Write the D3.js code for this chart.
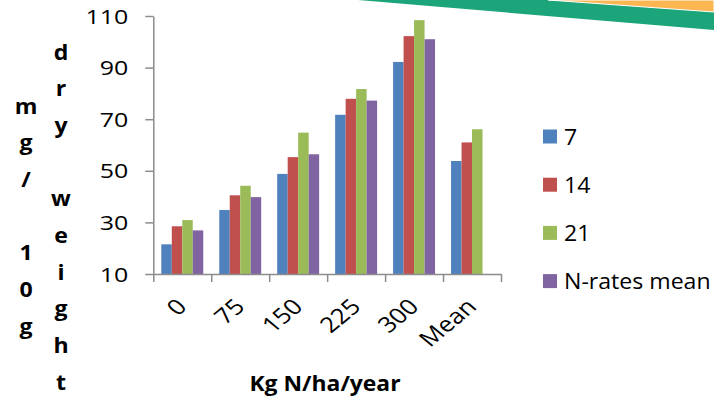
<!DOCTYPE html>
<html><head><meta charset="utf-8">
<script src="https://cdn.jsdelivr.net/npm/d3@7"></script>
<style>
body{margin:0;background:#fff}
svg{display:block}
text{font-family:"Open Sans",sans-serif;fill:#000}
</style>
</head><body>
<svg id="chart" width="714" height="400"></svg>
<script>
const categories = ["0","75","150","225","300","Mean"];
const seriesNames = ["7","14","21","N-rates mean"];
const values7 = [21.5, 34.8, 48.8, 71.7, 92.2, 53.8];
const values14 = [28.5, 40.5, 55.3, 77.9, 102.2, 61.0];
const values21 = [30.9, 44.2, 64.8, 81.7, 108.4, 66.1];
const valuesNMean = [26.9, 39.8, 56.4, 77.2, 101.0, null];
const yTicks = [10, 30, 50, 70, 90, 110];
const xTitle = "Kg N/ha/year";
const yTitleCol1 = "mg/ 10g";
const yTitleCol2 = "dry weight";
const colors = ["#4F81BD","#C0504D","#9BBB59","#8064A2"];

(function(){
const allSeries = [values7, values14, values21, valuesNMean];
const svg = d3.select("#chart");

// decorative top-right banner
svg.append("path").attr("d","M358,0 L714,0 L714,30 Z").attr("fill","#1CA57A");
svg.append("path").attr("d","M548,0 L714,0 L714,12 Z").attr("fill","#FBB651")
  .attr("stroke","#fff").attr("stroke-width",1);

const pL = 153.3, pR = 501, pT = 16, pB = 274;
const y = d3.scaleLinear().domain([10,110]).range([pB, pT]);
const x0 = d3.scaleBand().domain(categories).range([pL, pR]).paddingInner(0).paddingOuter(0);
const x1 = d3.scaleBand().domain(seriesNames).range([8, x0.bandwidth()-8]).paddingInner(0).paddingOuter(0);
const xEdge = d3.scaleLinear().domain([0, categories.length]).range([pL, pR]);

// bars
const rows = [];
categories.forEach((c,ci)=>{
  seriesNames.forEach((s,si)=>{
    const v = allSeries[si][ci];
    if (v !== null && v !== undefined) rows.push({c, s, si, v});
  });
});
svg.append("g").selectAll("rect").data(rows).join("rect")
  .attr("x", d => x0(d.c) + x1(d.s))
  .attr("width", x1.bandwidth())
  .attr("y", d => y(d.v))
  .attr("height", d => y(10) - y(d.v))
  .attr("fill", d => colors[d.si]);

// y axis
const yAxis = svg.append("g").attr("transform", `translate(${pL},0)`)
  .call(d3.axisLeft(y).tickValues(yTicks).tickSize(8).tickSizeOuter(0).tickFormat(d3.format("d")));
yAxis.select(".domain").attr("stroke","#8C8C8C").attr("stroke-width",1.5);
yAxis.selectAll(".tick line").attr("stroke","#8C8C8C").attr("stroke-width",1.5);
yAxis.selectAll(".tick text")
  .attr("x", 0).attr("dy","0.36em")
  .attr("transform", "translate(-25,0) scale(1.28,1)")
  .attr("text-anchor","end")
  .style("font-size","19.5px").style("font-family","'Open Sans',sans-serif").attr("fill","#000");

// x axis (ticks on category boundaries)
const xAxis = svg.append("g").attr("transform", `translate(0,${pB})`)
  .call(d3.axisBottom(xEdge).tickValues(d3.range(categories.length+1)).tickSize(8).tickSizeOuter(0).tickFormat(""));
xAxis.select(".domain").attr("stroke","#8C8C8C").attr("stroke-width",1.5);
xAxis.selectAll(".tick line").attr("stroke","#8C8C8C").attr("stroke-width",1.5);

// x labels rotated
svg.append("g").selectAll("text").data(categories).join("text")
  .attr("transform", d => `translate(${x0(d)+x0.bandwidth()/2+6},${pB+34}) scale(1.2,1) rotate(-45)`)
  .attr("text-anchor","end")
  .style("font-size","21.5px")
  .text(d => d);

// x title
svg.append("text")
  .attr("transform","translate(325,391) scale(1.09,1)")
  .attr("text-anchor","middle")
  .style("font-size","21px").style("font-weight","bold")
  .text(xTitle);

// y title: stacked letters in two columns
const lineH = 36.7;
function stacked(str, cx, y0){
  svg.append("g").selectAll("text").data(str.split("")).join("text")
    .attr("transform",(d,i)=>`translate(${cx},${y0+i*lineH}) scale(1.1,1)`)
    .attr("text-anchor","middle")
    .style("font-size","21px").style("font-weight","bold")
    .text(d=>d);
}
stacked(yTitleCol1, 26, 113.5);
stacked(yTitleCol2, 61, 59.5);

// legend
const lg = svg.append("g");
seriesNames.forEach((s,i)=>{
  const cy = 136.5 + i*48.2;
  lg.append("rect").attr("x",543).attr("y",cy-7).attr("width",14).attr("height",14).attr("fill",colors[i]);
  lg.append("text").attr("transform",`translate(564,${cy+8}) scale(1.1,1)`)
    .style("font-size","21px").text(s);
});
})();
</script>
</body></html>
